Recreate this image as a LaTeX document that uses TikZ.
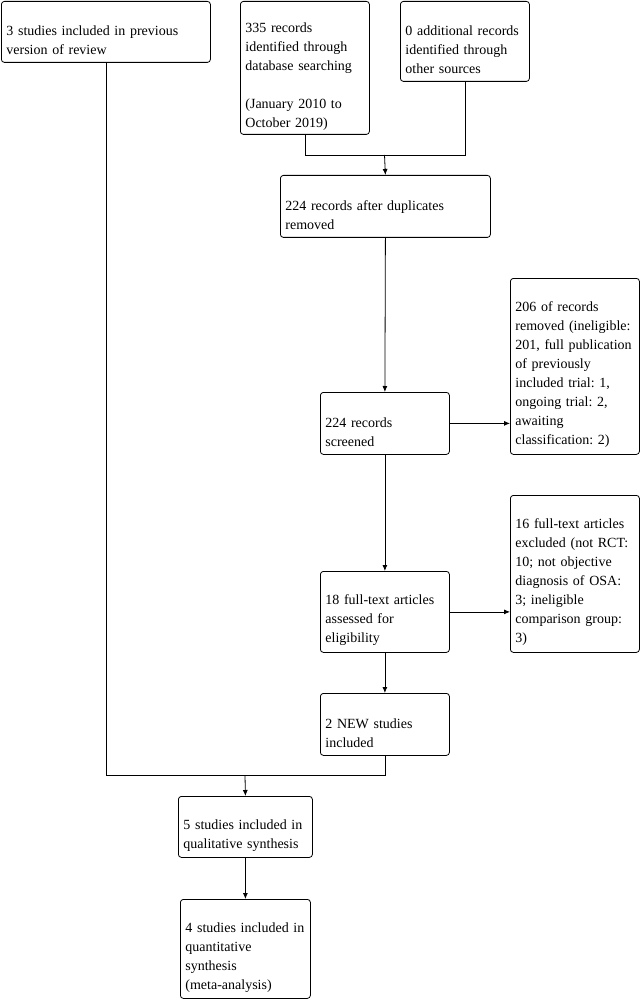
\documentclass[tikz,border=0pt]{standalone}
\usepackage{fontspec}
\setmainfont{Liberation Serif}
\usetikzlibrary{arrows.meta}
\frenchspacing
\newcommand{\blankln}{\rule{0pt}{8pt}}
\begin{document}
\begin{tikzpicture}[x=1pt,y=-1pt,
  box/.style={draw, line width=0.8pt, rounded corners=3pt, anchor=north west,
    align=left, inner xsep=5pt, inner ysep=0pt,
    font=\fontsize{14}{19}\selectfont},
  conn/.style={line width=0.8pt},
  arr/.style={line width=0.8pt, -{Latex[length=6pt,width=5pt]}}]
\useasboundingbox (0,0) rectangle (642,1000);
\node[box, text width=199pt, minimum height=61pt] (b1) at (1,1) {\blankln\\3 studies included in previous\\version of review};
\node[box, text width=119pt, minimum height=133pt] (b2) at (240,1) {\blankln\\335 records\\identified through\\database searching\\\mbox{}\\(January 2010 to\\October 2019)};
\node[box, text width=119pt, minimum height=80pt] (b3) at (400,1) {\blankln\\0 additional records\\identified through\\other sources};
\node[box, text width=200pt, minimum height=62pt] (b4) at (280,175) {\blankln\\224 records after duplicates\\removed};
\node[box, text width=119pt, minimum height=176pt] (b5) at (510,278) {\blankln\\206 of records\\removed (ineligible:\\201, full publication\\of previously\\included trial: 1,\\ongoing trial: 2,\\awaiting\\classification: 2)};
\node[box, text width=119pt, minimum height=62pt] (b6) at (320,392) {\blankln\\224 records\\screened};
\node[box, text width=119pt, minimum height=157pt] (b7) at (510,495) {\blankln\\16 full-text articles\\excluded (not RCT:\\10; not objective\\diagnosis of OSA:\\3; ineligible\\comparison group:\\3)};
\node[box, text width=119pt, minimum height=81pt] (b8) at (320,571) {\blankln\\18 full-text articles\\assessed for\\eligibility};
\node[box, text width=119pt, minimum height=62pt] (b9) at (320,693) {\blankln\\2 NEW studies\\included};
\node[box, text width=124pt, minimum height=61pt] (b10) at (178,796) {\blankln\\5 studies included in\\qualitative synthesis};
\node[box, text width=120pt, minimum height=99pt] (b11) at (180,899) {\blankln\\4 studies included in\\quantitative\\synthesis\\(meta-analysis)};
\coordinate (m1) at (384.5,155);
\coordinate (m2) at (245,775);
\draw[conn] (b2.south) |- (m1);
\draw[conn] (b3.south) |- (m1);
\draw[arr] (m1) -- (b4.north);
\draw[arr] (b4.south) -- (b6.north);
\draw[arr] (b6.east) -- (b6.east -| b5.west);
\draw[arr] (b6.south) -- (b8.north);
\draw[arr] (b8.east) -- (b8.east -| b7.west);
\draw[arr] (b8.south) -- (b9.north);
\draw[conn] (b1.south) |- (m2);
\draw[conn] (b9.south) |- (m2);
\draw[arr] (m2) -- (b10.north);
\draw[arr] (b10.south) -- (b11.north);
\end{tikzpicture}
\end{document}
